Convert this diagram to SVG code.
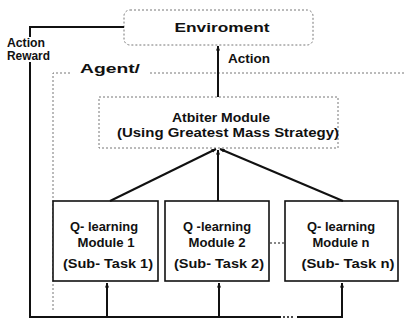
<svg xmlns="http://www.w3.org/2000/svg" width="405" height="324" viewBox="0 0 405 324">
<style>
text{font-family:"Liberation Sans",Arial,sans-serif;font-weight:bold;fill:#111;font-size:12px}
.c{text-anchor:middle}
.dash{fill:none;stroke:#777;stroke-width:1;stroke-dasharray:2 2}
.mod{fill:#fff;stroke:#111;stroke-width:1.6}
.ln{fill:none;stroke:#111;stroke-width:2}
</style>
<defs>
<marker id="ah" viewBox="0 0 10 10" refX="9" refY="5" markerWidth="5" markerHeight="5" orient="auto" markerUnits="userSpaceOnUse">
<path d="M0,1 L10,5 L0,9 z" fill="#111"/>
</marker>
</defs>
<rect width="405" height="324" fill="#fff"/>
<g id="agent">
<path class="dash" d="M53,310 V73 H70 M150,73 H405"/>
<text x="80" y="73" textLength="60" lengthAdjust="spacingAndGlyphs">Agent/</text>
</g>
<g id="environment">
<rect class="dash" x="124" y="10" width="189" height="35" rx="6" stroke-dasharray="6 4"/>
<text class="c" x="222" y="32" font-size="13" textLength="95" lengthAdjust="spacingAndGlyphs">Enviroment</text>
</g>
<g id="arbiter">
<rect class="dash" x="99" y="97" width="239" height="51"/>
<text class="c" x="221" y="122" textLength="98" lengthAdjust="spacingAndGlyphs">Atbiter Module</text>
<text class="c" x="228" y="137" textLength="222" lengthAdjust="spacingAndGlyphs">(Using Greatest Mass Strategy)</text>
</g>
<g id="module1">
<rect class="mod" x="53" y="201" width="105" height="80"/>
<text class="c" x="104" y="231" textLength="68" lengthAdjust="spacingAndGlyphs">Q- learning</text>
<text class="c" x="106" y="247" textLength="57" lengthAdjust="spacingAndGlyphs">Module 1</text>
<text class="c" x="108" y="268" textLength="90" lengthAdjust="spacingAndGlyphs">(Sub- Task 1)</text>
</g>
<g id="module2">
<rect class="mod" x="165" y="201" width="104" height="80"/>
<text class="c" x="217" y="231" textLength="68" lengthAdjust="spacingAndGlyphs">Q -learning</text>
<text class="c" x="217" y="247" textLength="57" lengthAdjust="spacingAndGlyphs">Module 2</text>
<text class="c" x="219" y="268" textLength="90" lengthAdjust="spacingAndGlyphs">(Sub- Task 2)</text>
</g>
<g id="modulen">
<rect class="mod" x="285" y="201" width="113" height="80"/>
<text class="c" x="341" y="231" textLength="68" lengthAdjust="spacingAndGlyphs">Q- learning</text>
<text class="c" x="341" y="247" textLength="57" lengthAdjust="spacingAndGlyphs">Module n</text>
<text class="c" x="348" y="268" textLength="93" lengthAdjust="spacingAndGlyphs">(Sub- Task n)</text>
</g>
<g id="connectors">
<path class="ln" d="M124,27 H30 V37 M30,62 V317 H281 M297,317 H342 V283" marker-end="url(#ah)"/>
<path class="ln" d="M107,317 V283" marker-end="url(#ah)"/>
<path class="ln" d="M219,317 V283" marker-end="url(#ah)"/>
<path class="ln" d="M218,97 V46" marker-end="url(#ah)"/>
<path class="ln" d="M110,201 L216,149" marker-end="url(#ah)"/>
<path class="ln" d="M218,201 V150" marker-end="url(#ah)"/>
<path class="ln" d="M343,201 L220,149" marker-end="url(#ah)"/>
<path d="M283,317 H295" fill="none" stroke="#111" stroke-width="1.5" stroke-dasharray="2 2"/>
<path d="M270,243 H285" fill="none" stroke="#111" stroke-width="1.2" stroke-dasharray="2 2"/>
<text x="7" y="47" textLength="38" lengthAdjust="spacingAndGlyphs">Action</text>
<text x="7" y="60" textLength="43" lengthAdjust="spacingAndGlyphs">Reward</text>
<text x="228" y="63" textLength="42" lengthAdjust="spacingAndGlyphs">Action</text>
</g>
</svg>
